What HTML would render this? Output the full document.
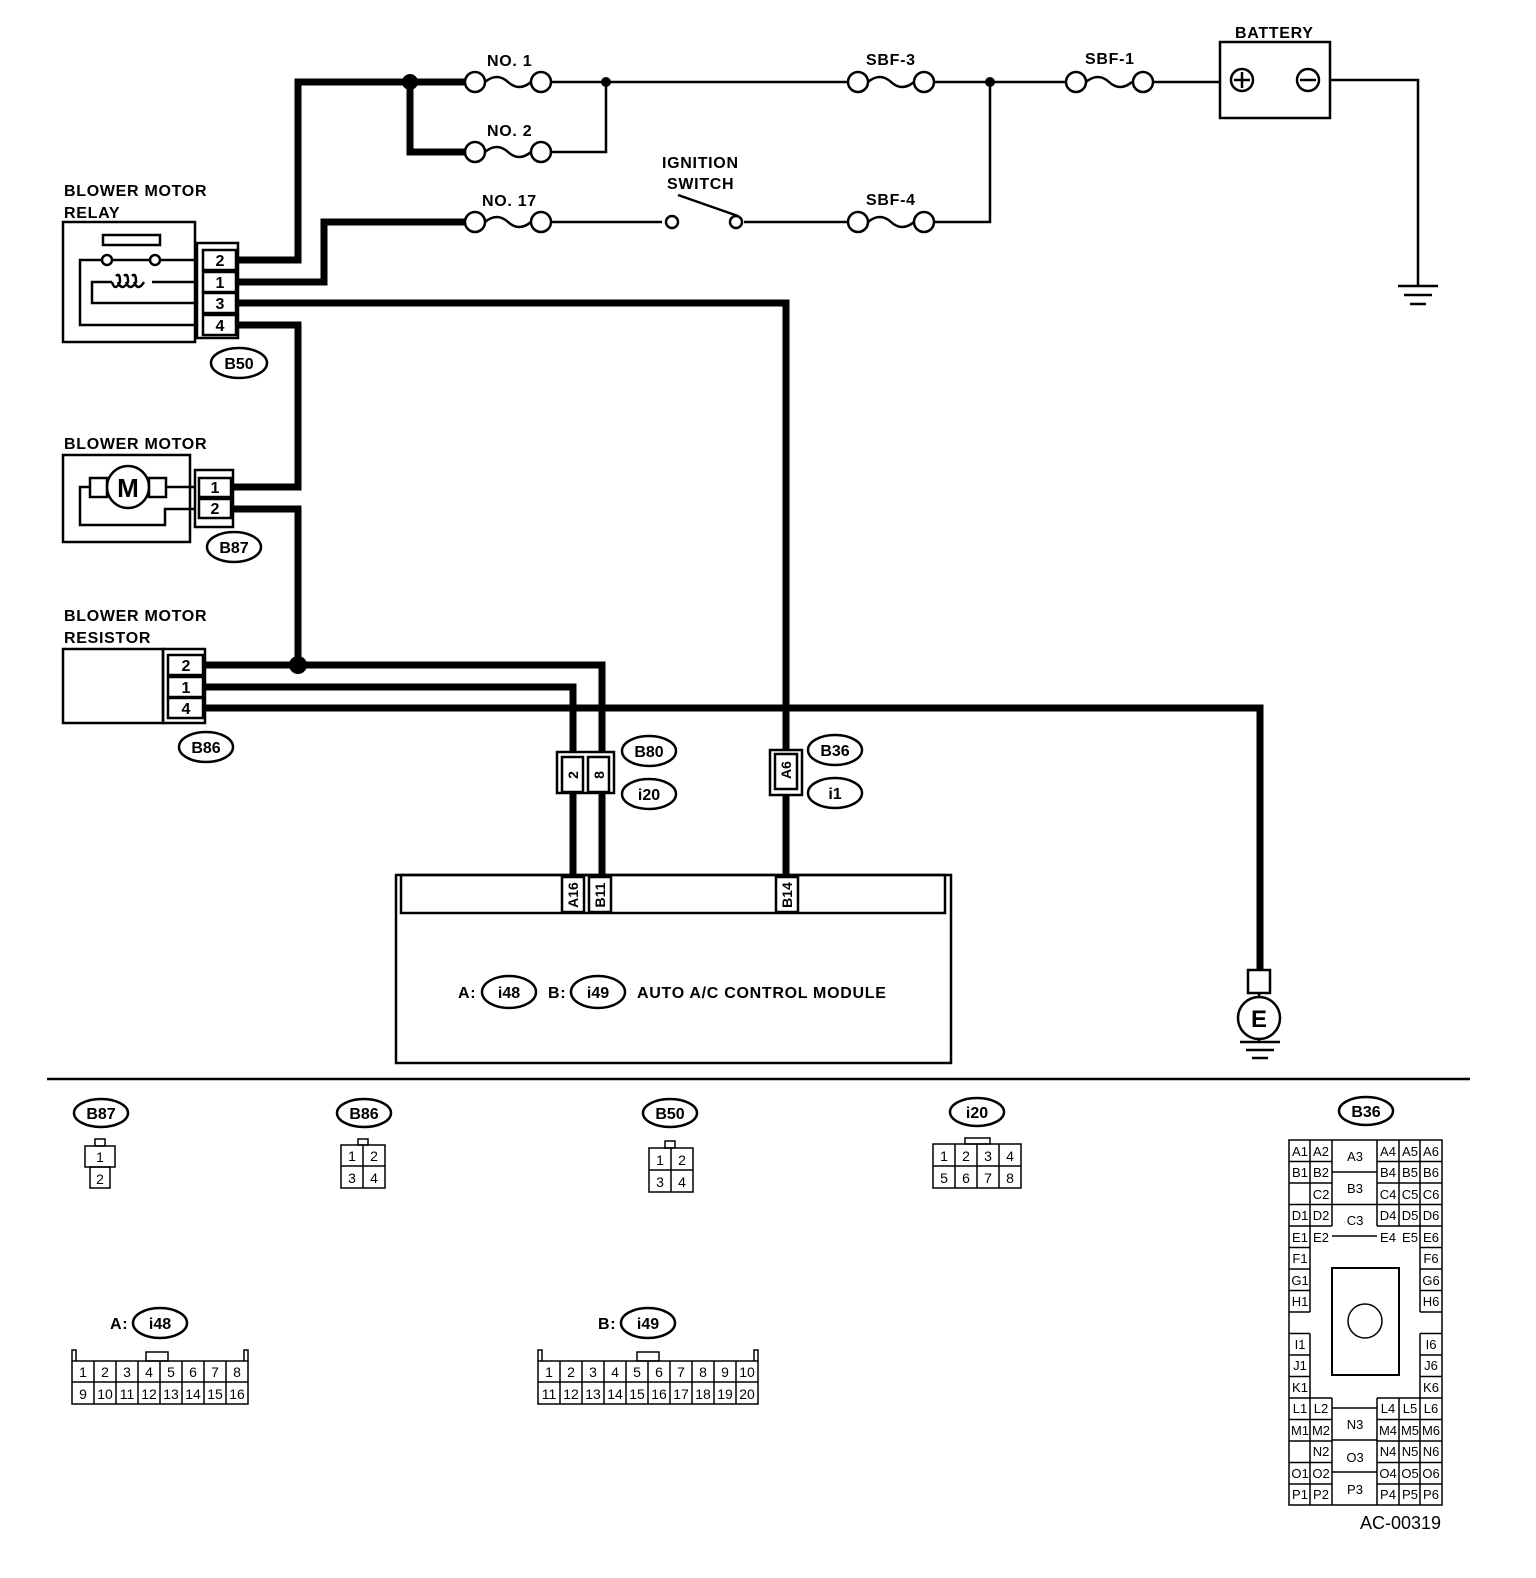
<!DOCTYPE html>
<html><head><meta charset="utf-8"><style>
html,body{margin:0;padding:0;background:#fff}
svg{display:block}
text{font-family:"Liberation Sans",sans-serif;fill:#000}
.b{font-weight:bold;font-size:16px;letter-spacing:0.7px}
.n{font-size:14px}
</style></head><body>
<svg width="1536" height="1578" viewBox="0 0 1536 1578" xmlns="http://www.w3.org/2000/svg">
<g fill="none" stroke="#000">
<g stroke-width="7" stroke-linejoin="miter">
<polyline points="238,260 298,260 298,82 410,82"/>
<polyline points="410,82 410,152 465,152"/>
<polyline points="410,82 465,82"/>
<polyline points="238,282 324,282 324,222 465,222"/>
<polyline points="238,303 786,303 786,750"/>
<polyline points="786,795 786,878"/>
<polyline points="238,325 298,325 298,487 233,487"/>
<polyline points="233,509 298,509 298,665"/>
<polyline points="205,665 602,665 602,752"/>
<polyline points="205,687 573,687 573,752"/>
<polyline points="573,793 573,878"/>
<polyline points="602,793 602,878"/>
<polyline points="205,708 1260,708 1260,970"/>
</g>
<g stroke-width="2.5">
<line x1="551" y1="82" x2="848" y2="82"/>
<polyline points="551,152 606,152 606,82"/>
<line x1="934" y1="82" x2="1066" y2="82"/>
<line x1="1153" y1="82" x2="1220" y2="82"/>
<polyline points="1330,80 1418,80 1418,285"/>
<line x1="551" y1="222" x2="662" y2="222"/>
<line x1="744" y1="222" x2="848" y2="222"/>
<polyline points="934,222 990,222 990,82"/>
<line x1="678" y1="195" x2="738" y2="216"/>
<line x1="1398" y1="286" x2="1438" y2="286"/>
<line x1="1404" y1="295" x2="1432" y2="295"/>
<line x1="1410" y1="304" x2="1426" y2="304"/>
<line x1="1240" y1="1042" x2="1280" y2="1042"/>
<line x1="1246" y1="1050" x2="1274" y2="1050"/>
<line x1="1252" y1="1058" x2="1268" y2="1058"/>
</g>
<g stroke-width="2.5">
<circle cx="475" cy="82" r="10"/><circle cx="541" cy="82" r="10"/><path d="M485,82 q12,-10 23,0 t23,0"/>
<circle cx="475" cy="152" r="10"/><circle cx="541" cy="152" r="10"/><path d="M485,152 q12,-10 23,0 t23,0"/>
<circle cx="475" cy="222" r="10"/><circle cx="541" cy="222" r="10"/><path d="M485,222 q12,-10 23,0 t23,0"/>
<circle cx="858" cy="82" r="10"/><circle cx="924" cy="82" r="10"/><path d="M868,82 q12,-10 23,0 t23,0"/>
<circle cx="858" cy="222" r="10"/><circle cx="924" cy="222" r="10"/><path d="M868,222 q12,-10 23,0 t23,0"/>
<circle cx="1076" cy="82" r="10"/><circle cx="1143" cy="82" r="10"/><path d="M1086,82 q12,-10 23,0 t23,0"/>
<circle cx="672" cy="222" r="6"/><circle cx="736" cy="222" r="6"/>
<rect x="1220" y="42" width="110" height="76"/>
<circle cx="1242" cy="80" r="11"/><line x1="1234" y1="80" x2="1250" y2="80"/><line x1="1242" y1="72" x2="1242" y2="88"/>
<circle cx="1308" cy="80" r="11"/><line x1="1300" y1="80" x2="1316" y2="80"/>
</g>
<g fill="#000" stroke="none">
<circle cx="410" cy="82" r="8"/><circle cx="606" cy="82" r="5"/><circle cx="990" cy="82" r="5"/><circle cx="298" cy="665" r="9"/>
</g>
<g stroke-width="2.5">
<rect x="63" y="222" width="132" height="120"/>
<rect x="103" y="235" width="57" height="10"/>
<polyline points="195,260 160,260"/><circle cx="155" cy="260" r="5"/>
<polyline points="150,260 112,260"/><circle cx="107" cy="260" r="5"/>
<polyline points="102,260 80,260 80,325 195,325"/>
<polyline points="195,282 165,282 152,282"/>
<path d="M112,282 q3,10 8,0 q0,-10 -4,-6 M118,282 q4,10 10,0 q0,-10 -4,-6 M126,282 q4,10 10,0 q0,-10 -4,-6 M134,282 q4,10 10,0"/>
<polyline points="112,282 92,282 92,303 195,303"/>
<rect x="197" y="243" width="41" height="95"/>
<rect x="203" y="250" width="33" height="20"/><rect x="203" y="272" width="33" height="20"/>
<rect x="203" y="293" width="33" height="20"/><rect x="203" y="315" width="33" height="20"/>
<ellipse cx="239" cy="363" rx="28" ry="15"/>
<rect x="63" y="455" width="127" height="87"/>
<circle cx="128" cy="487" r="21"/>
<rect x="90" y="478" width="17" height="19"/><rect x="149" y="478" width="17" height="19"/>
<polyline points="90,487 80,487 80,525 165,525 165,509 195,509"/>
<polyline points="166,487 195,487"/>
<rect x="195" y="470" width="38" height="57"/>
<rect x="199" y="478" width="32" height="19"/><rect x="199" y="499" width="32" height="19"/>
<ellipse cx="234" cy="547" rx="27" ry="15"/>
<rect x="63" y="649" width="100" height="74"/>
<rect x="163" y="649" width="42" height="74"/>
<rect x="168" y="655" width="35" height="20"/><rect x="168" y="677" width="35" height="20"/><rect x="168" y="698" width="35" height="20"/>
<ellipse cx="206" cy="747" rx="27" ry="15"/>
<rect x="557" y="752" width="57" height="41" fill="#fff"/>
<rect x="562" y="757" width="21" height="35" fill="#fff"/><rect x="588" y="757" width="21" height="35" fill="#fff"/>
<ellipse cx="649" cy="751" rx="27" ry="15"/><ellipse cx="649" cy="794" rx="27" ry="15"/>
<rect x="770" y="750" width="32" height="45" fill="#fff"/><rect x="775" y="754" width="22" height="35" fill="#fff"/>
<ellipse cx="835" cy="750" rx="27" ry="15"/><ellipse cx="835" cy="793" rx="27" ry="15"/>
<rect x="396" y="875" width="555" height="188"/>
<rect x="401" y="875" width="544" height="38"/>
<rect x="562" y="877" width="22" height="35" fill="#fff"/><rect x="589" y="877" width="22" height="35" fill="#fff"/><rect x="776" y="877" width="22" height="35" fill="#fff"/>
<ellipse cx="509" cy="992" rx="27" ry="16"/><ellipse cx="598" cy="992" rx="27" ry="16"/>
<rect x="1248" y="970" width="22" height="23" fill="#fff"/>
<circle cx="1259" cy="1018" r="21"/>
<line x1="1259" y1="993" x2="1259" y2="997"/>
<line x1="1259" y1="1039" x2="1259" y2="1042"/>
</g>
<line x1="47" y1="1079" x2="1470" y2="1079" stroke-width="2.5"/>
<g stroke-width="2.5">
<ellipse cx="101" cy="1113" rx="27" ry="14"/><ellipse cx="364" cy="1113" rx="27" ry="14"/>
<ellipse cx="670" cy="1113" rx="27" ry="14"/><ellipse cx="977" cy="1112" rx="27" ry="14"/>
<ellipse cx="1366" cy="1111" rx="27" ry="14"/>
<ellipse cx="160" cy="1323" rx="27" ry="15"/><ellipse cx="648" cy="1323" rx="27" ry="15"/>
</g>
<g stroke-width="1.5">
<rect x="95" y="1139" width="10" height="7"/><rect x="85" y="1146" width="30" height="21"/><rect x="90" y="1167" width="20" height="21"/>
<rect x="358" y="1139" width="10" height="6"/><rect x="341" y="1145" width="44" height="43"/><line x1="363" y1="1145" x2="363" y2="1188"/><line x1="341" y1="1166" x2="385" y2="1166"/>
<rect x="665" y="1141" width="10" height="7"/><rect x="649" y="1148" width="44" height="44"/><line x1="671" y1="1148" x2="671" y2="1192"/><line x1="649" y1="1170" x2="693" y2="1170"/>
<rect x="965" y="1138" width="25" height="6"/><rect x="933" y="1144" width="88" height="44"/>
<line x1="955" y1="1144" x2="955" y2="1188"/><line x1="977" y1="1144" x2="977" y2="1188"/><line x1="999" y1="1144" x2="999" y2="1188"/><line x1="933" y1="1166" x2="1021" y2="1166"/>
<polyline points="72,1361 72,1350 76,1350 76,1361"/><polyline points="244,1361 244,1350 248,1350 248,1361"/>
<rect x="146" y="1352" width="22" height="9"/>
<rect x="72" y="1361" width="176" height="43"/><line x1="72" y1="1382" x2="248" y2="1382"/>
<path d="M94,1361v43M116,1361v43M138,1361v43M160,1361v43M182,1361v43M204,1361v43M226,1361v43"/>
<polyline points="538,1361 538,1350 542,1350 542,1361"/><polyline points="754,1361 754,1350 758,1350 758,1361"/>
<rect x="637" y="1352" width="22" height="9"/>
<rect x="538" y="1361" width="220" height="43"/><line x1="538" y1="1382" x2="758" y2="1382"/>
<path d="M560,1361v43M582,1361v43M604,1361v43M626,1361v43M648,1361v43M670,1361v43M692,1361v43M714,1361v43M736,1361v43"/>
<rect x="1289" y="1140" width="153" height="365"/>
<path d="M1289,1161.5h43M1289,1183h43M1310,1140v86M1289,1204.5h43M1289,1226h43M1289,1247.5h21M1289,1269h21M1289,1290.5h21M1289,1312h21M1310,1204.5v107.5"/>
<path d="M1377,1140v86M1377,1161.5h65M1377,1183h65M1399,1140v86M1420,1140v172M1377,1204.5h65M1377,1226h65M1420,1247.5h22M1420,1269h22M1420,1290.5h22M1420,1312h22"/>
<path d="M1332,1140v86M1332,1172h45M1332,1204.5h45M1332,1236h45"/>
<path d="M1289,1333.5h21M1310,1333.5v64.5M1289,1355h21M1289,1376.5h21M1289,1398h43M1420,1333.5h22M1420,1333.5v64.5M1420,1355h22M1420,1376.5h22M1377,1398h65"/>
<path d="M1289,1419.5h43M1289,1441h43M1289,1462.5h43M1289,1484h43M1310,1398v107M1332,1398v107M1377,1398v107M1399,1398v107M1420,1398v107M1377,1419.5h65M1377,1441h65M1377,1462.5h65M1377,1484h65M1332,1408h45M1332,1440h45M1332,1472h45"/>
<rect x="1332" y="1268" width="67" height="107" stroke-width="2"/><circle cx="1365" cy="1321" r="17"/>
</g>
</g>
<g class="b">
<text x="487" y="66">NO. 1</text><text x="487" y="136">NO. 2</text><text x="482" y="206">NO. 17</text>
<text x="866" y="65">SBF-3</text><text x="866" y="205">SBF-4</text><text x="1085" y="64">SBF-1</text>
<text x="1235" y="38">BATTERY</text>
<text x="662" y="168">IGNITION</text><text x="667" y="189">SWITCH</text>
<text x="64" y="196">BLOWER MOTOR</text><text x="64" y="218">RELAY</text>
<text x="64" y="449">BLOWER MOTOR</text>
<text x="64" y="621">BLOWER MOTOR</text><text x="64" y="643">RESISTOR</text>
<text x="458" y="998">A:</text><text x="548" y="998">B:</text><text x="637" y="998">AUTO A/C CONTROL MODULE</text>
<text x="110" y="1329">A:</text><text x="598" y="1329">B:</text>
</g>
<g class="b" text-anchor="middle" style="letter-spacing:0">
<text x="220" y="266">2</text><text x="220" y="288">1</text><text x="220" y="309">3</text><text x="220" y="331">4</text>
<text x="239" y="369">B50</text>
<text x="128" y="497" font-size="26">M</text>
<text x="215" y="493">1</text><text x="215" y="514">2</text>
<text x="234" y="553">B87</text>
<text x="186" y="671">2</text><text x="186" y="693">1</text><text x="186" y="714">4</text>
<text x="206" y="753">B86</text>
<text x="649" y="757">B80</text><text x="649" y="800">i20</text>
<text x="835" y="756">B36</text><text x="835" y="799">i1</text>
<text x="509" y="998">i48</text><text x="598" y="998">i49</text>
<text x="1259" y="1027" font-size="24">E</text>
<text x="101" y="1119">B87</text><text x="364" y="1119">B86</text><text x="670" y="1119">B50</text><text x="977" y="1118">i20</text><text x="1366" y="1117">B36</text>
<text x="160" y="1329">i48</text><text x="648" y="1329">i49</text>
</g>
<g class="b" text-anchor="middle" style="font-size:14px;letter-spacing:0">
<text transform="translate(578,775) rotate(-90)">2</text>
<text transform="translate(604,775) rotate(-90)">8</text>
<text transform="translate(791,770) rotate(-90)">A6</text>
<text transform="translate(578,895) rotate(-90)">A16</text>
<text transform="translate(605,895) rotate(-90)">B11</text>
<text transform="translate(792,895) rotate(-90)">B14</text>
</g>
<g class="n" text-anchor="middle">
<text x="100" y="1162">1</text><text x="100" y="1184">2</text>
<text x="352" y="1161">1</text><text x="374" y="1161">2</text><text x="352" y="1183">3</text><text x="374" y="1183">4</text>
<text x="660" y="1165">1</text><text x="682" y="1165">2</text><text x="660" y="1187">3</text><text x="682" y="1187">4</text>
<text x="944" y="1161">1</text><text x="966" y="1161">2</text><text x="988" y="1161">3</text><text x="1010" y="1161">4</text>
<text x="944" y="1183">5</text><text x="966" y="1183">6</text><text x="988" y="1183">7</text><text x="1010" y="1183">8</text>
<text x="83" y="1377">1</text><text x="105" y="1377">2</text><text x="127" y="1377">3</text><text x="149" y="1377">4</text><text x="171" y="1377">5</text><text x="193" y="1377">6</text><text x="215" y="1377">7</text><text x="237" y="1377">8</text>
<text x="83" y="1399">9</text><text x="105" y="1399">10</text><text x="127" y="1399">11</text><text x="149" y="1399">12</text><text x="171" y="1399">13</text><text x="193" y="1399">14</text><text x="215" y="1399">15</text><text x="237" y="1399">16</text>
<text x="549" y="1377">1</text><text x="571" y="1377">2</text><text x="593" y="1377">3</text><text x="615" y="1377">4</text><text x="637" y="1377">5</text><text x="659" y="1377">6</text><text x="681" y="1377">7</text><text x="703" y="1377">8</text><text x="725" y="1377">9</text><text x="747" y="1377">10</text>
<text x="549" y="1399">11</text><text x="571" y="1399">12</text><text x="593" y="1399">13</text><text x="615" y="1399">14</text><text x="637" y="1399">15</text><text x="659" y="1399">16</text><text x="681" y="1399">17</text><text x="703" y="1399">18</text><text x="725" y="1399">19</text><text x="747" y="1399">20</text>
</g>
<g font-size="13" text-anchor="middle" font-family="Liberation Sans, sans-serif">
<text x="1300" y="1156">A1</text><text x="1321" y="1156">A2</text><text x="1355" y="1161">A3</text><text x="1388" y="1156">A4</text><text x="1410" y="1156">A5</text><text x="1431" y="1156">A6</text>
<text x="1300" y="1177">B1</text><text x="1321" y="1177">B2</text><text x="1355" y="1193">B3</text><text x="1388" y="1177">B4</text><text x="1410" y="1177">B5</text><text x="1431" y="1177">B6</text>
<text x="1321" y="1199">C2</text><text x="1388" y="1199">C4</text><text x="1410" y="1199">C5</text><text x="1431" y="1199">C6</text>
<text x="1300" y="1220">D1</text><text x="1321" y="1220">D2</text><text x="1355" y="1225">C3</text><text x="1388" y="1220">D4</text><text x="1410" y="1220">D5</text><text x="1431" y="1220">D6</text>
<text x="1300" y="1242">E1</text><text x="1321" y="1242">E2</text><text x="1388" y="1242">E4</text><text x="1410" y="1242">E5</text><text x="1431" y="1242">E6</text>
<text x="1300" y="1263">F1</text><text x="1431" y="1263">F6</text>
<text x="1300" y="1285">G1</text><text x="1431" y="1285">G6</text>
<text x="1300" y="1306">H1</text><text x="1431" y="1306">H6</text>
<text x="1300" y="1349">I1</text><text x="1431" y="1349">I6</text>
<text x="1300" y="1370">J1</text><text x="1431" y="1370">J6</text>
<text x="1300" y="1392">K1</text><text x="1431" y="1392">K6</text>
<text x="1300" y="1413">L1</text><text x="1321" y="1413">L2</text><text x="1388" y="1413">L4</text><text x="1410" y="1413">L5</text><text x="1431" y="1413">L6</text>
<text x="1300" y="1435">M1</text><text x="1321" y="1435">M2</text><text x="1355" y="1429">N3</text><text x="1388" y="1435">M4</text><text x="1410" y="1435">M5</text><text x="1431" y="1435">M6</text>
<text x="1321" y="1456">N2</text><text x="1355" y="1462">O3</text><text x="1388" y="1456">N4</text><text x="1410" y="1456">N5</text><text x="1431" y="1456">N6</text>
<text x="1300" y="1478">O1</text><text x="1321" y="1478">O2</text><text x="1388" y="1478">O4</text><text x="1410" y="1478">O5</text><text x="1431" y="1478">O6</text>
<text x="1300" y="1499">P1</text><text x="1321" y="1499">P2</text><text x="1355" y="1494">P3</text><text x="1388" y="1499">P4</text><text x="1410" y="1499">P5</text><text x="1431" y="1499">P6</text>
</g>
<text x="1360" y="1529" font-size="18">AC-00319</text>
</svg>
</body></html>
